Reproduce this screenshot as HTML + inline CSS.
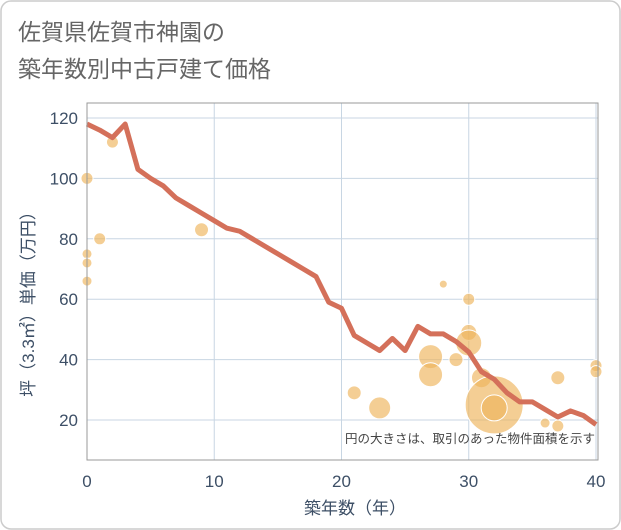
<!DOCTYPE html>
<html><head><meta charset="utf-8"><style>
body{margin:0;background:#fff;}
svg{display:block;font-family:"Liberation Sans","Noto Sans CJK JP",sans-serif;}
</style></head><body>
<svg id="chart" width="621" height="530" viewBox="0 0 621 530">
<rect x="1" y="1" width="619" height="528" rx="10" fill="#fff" stroke="#ccc" stroke-width="1.5"/>
<text x="18" y="40" font-size="23" fill="#666">佐賀県佐賀市神園の</text>
<text x="18" y="77" font-size="23" fill="#666">築年数別中古戸建て価格</text>
<g id="grid"></g>
<g id="bubbles"></g>
<g id="line"></g>
<g id="axes"></g>
<text x="595" y="443" font-size="12.5" fill="#444" text-anchor="end">円の大きさは、取引のあった物件面積を示す</text>
<text x="355" y="514" font-size="17" fill="#3d4f66" text-anchor="middle">築年数（年）</text>
<text transform="translate(34,300) rotate(-90)" font-size="17" fill="#3d4f66" text-anchor="middle">坪（3.3㎡）単価（万円）</text>
</svg>
<script>
const lineYears=[0,1,2,3,4,5,6,7,8,9,10,11,12,13,14,15,16,17,18,19,20,21,22,23,24,25,26,27,28,29,30,31,32,33,34,35,36,37,38,39,40];
const lineValues=[118,116,113.5,118,103,100,97.5,93.5,91,88.5,86,83.5,82.5,80,77.5,75,72.5,70,67.5,59,57,48,45.5,43,47,43,51,48.5,48.5,46,42.5,36,33.5,29,26,26,23.5,21,23,21.5,18.5];
const bubbleX=[0,0,0,0,1,2,9,21,23,27,27,28,29,30,30,30,31,32,32,36,37,37,40,40];
const bubbleY=[100,75,72,66,80,112,83,29,24,41,35,65,40,60,49,45.5,34,25,24,19,34,18,38,36];
const bubbleR=[6,5,5,5,6,6,7,7,11,12,12,4,7,6,8,13,10,29,13,5,7,6,6,6];
const xTicks=[0,10,20,30,40];
const yTicks=[20,40,60,80,100,120];
const X0=87,X1=596,PT=103,PB=460;
const xs=v=>X0+(v-0)*(X1-X0)/40;
const ys=v=>118+(120-v)*3.02;
const NS="http://www.w3.org/2000/svg";
function mk(tag,attrs,parent){const e=document.createElementNS(NS,tag);for(const k in attrs)e.setAttribute(k,attrs[k]);parent.appendChild(e);return e;}
const grid=document.getElementById('grid'),axes=document.getElementById('axes');
xTicks.forEach(t=>{
 const l=mk('line',{x1:xs(t),x2:xs(t),y1:PT,y2:PB,stroke:'#c8d6e3','stroke-width':1},grid);
 
 
 const tx=mk('text',{x:xs(t),y:487,'font-size':17,fill:'#3d4f66','text-anchor':'middle'},axes);
 tx.textContent=t;
 
 
});
yTicks.forEach(t=>{
 const l=mk('line',{x1:X0,x2:X1+2,y1:ys(t),y2:ys(t),stroke:'#c8d6e3','stroke-width':1},grid);
 
 
 const tx=mk('text',{x:78,y:ys(t)+6,'font-size':17,fill:'#3d4f66','text-anchor':'end'},axes);
 tx.textContent=t;
 
 
});
const fr=mk('rect',{x:X0,y:PT,width:X1-X0+2,height:PB-PT,fill:'none',stroke:'#999','stroke-width':1},axes);


const bg=document.getElementById('bubbles');
bubbleX.forEach((x,i)=>{
 const c=mk('circle',{cx:xs(x),cy:ys(bubbleY[i]),r:bubbleR[i],fill:'rgba(238,180,90,0.65)',stroke:'#fff','stroke-width':1},bg);
 
 
});
const pts=lineYears.map((y,i)=>xs(y)+','+ys(lineValues[i])).join(' ');
const pl=mk('polyline',{points:pts,fill:'none',stroke:'#d4705a','stroke-width':5,'stroke-linejoin':'round'},document.getElementById('line'));


</script>
</body></html>
